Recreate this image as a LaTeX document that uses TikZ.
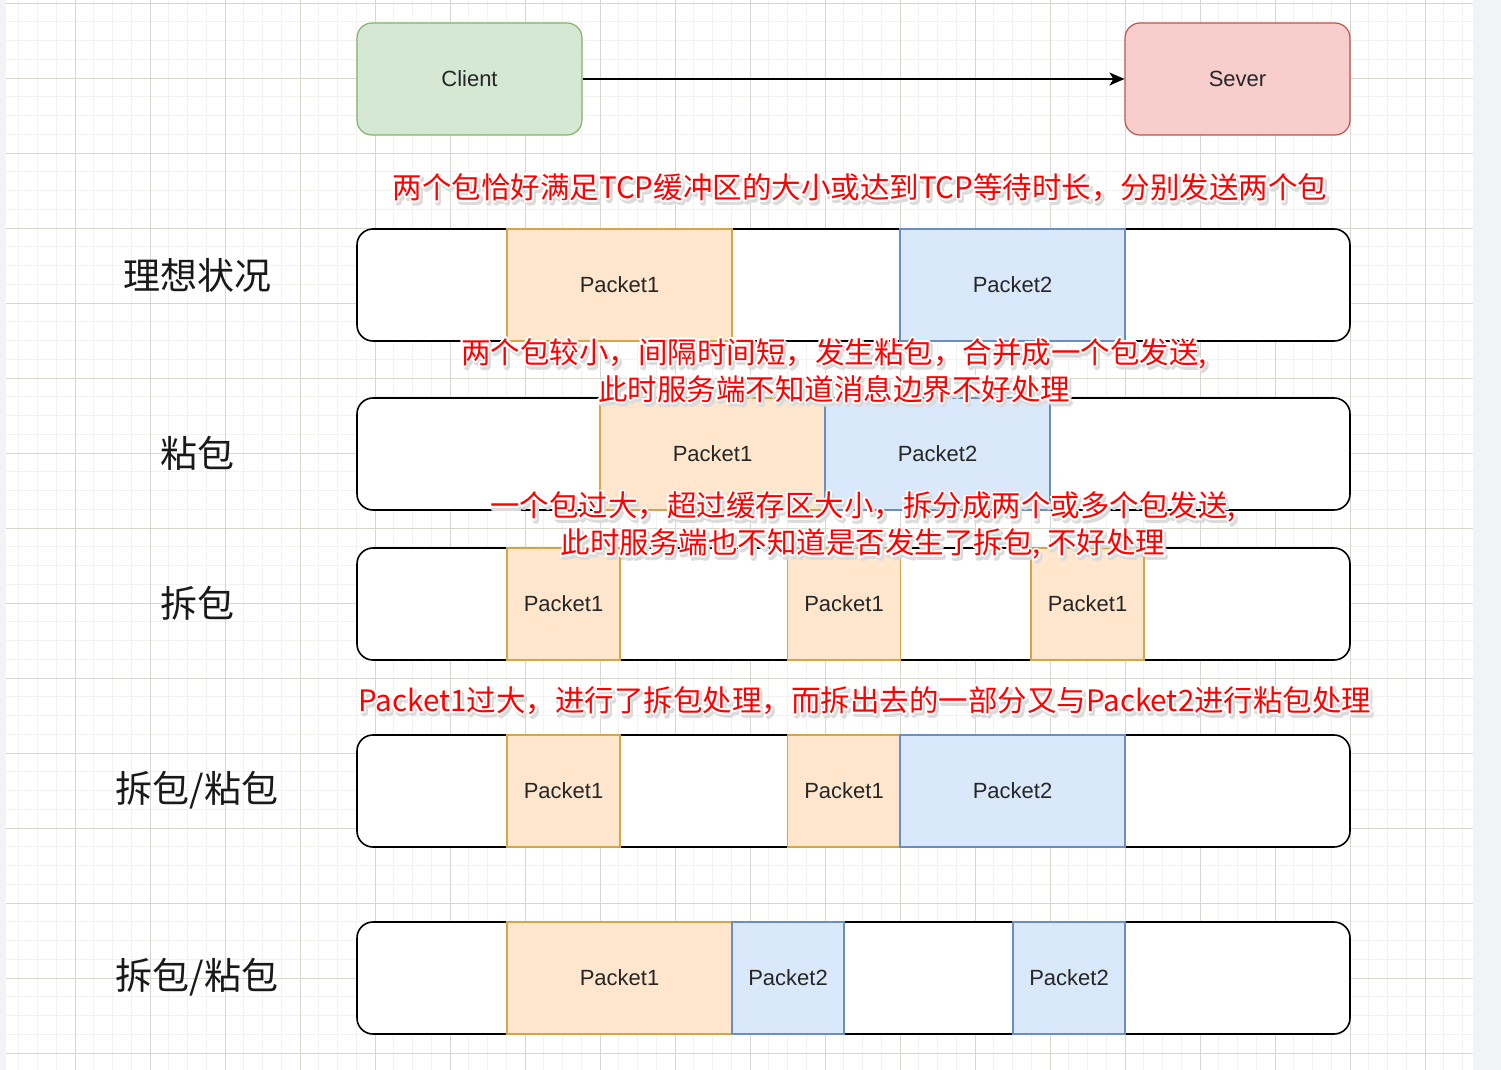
\documentclass[tikz,border=0pt]{standalone}
\usepackage{fontspec}
\setmainfont{Liberation Sans}
\newfontfamily\cjk{Noto Sans CJK SC}
\usepackage{contour}
\usetikzlibrary{arrows.meta, positioning}
\definecolor{gridMinor}{HTML}{F2F2EE}
\definecolor{gridMajor}{HTML}{D8D7CE}
\definecolor{sideStrip}{HTML}{F1F3F6}
\definecolor{clientFill}{HTML}{D5E8D4}
\definecolor{clientLine}{HTML}{82B366}
\definecolor{severFill}{HTML}{F8CECC}
\definecolor{severLine}{HTML}{B85450}
\definecolor{pktOneFill}{HTML}{FFE6CC}
\definecolor{pktOneLine}{HTML}{D6A54A}
\definecolor{pktTwoFill}{HTML}{DAE8FC}
\definecolor{pktTwoLine}{HTML}{6C8EBF}
\definecolor{tipRed}{HTML}{FF0000}
\contourlength{1.7pt}
% one line of red remark text: soft shadow, then white halo
\newcommand{\tipline}[1]{%
  \makebox[0pt][l]{\hspace{2pt}\raisebox{-3pt}{\textcolor{black!14}{\contour{black!14}{#1}}}}%
  \contour{white}{#1}}

\begin{document}
\begin{tikzpicture}[
  x=1pt, y=-1pt,
  minorline/.style={draw=gridMinor, line width=0.8pt},
  majorline/.style={draw=gridMajor, line width=0.9pt},
  endbox/.style={rounded corners=15pt, line width=1.2pt, minimum width=225pt,
    minimum height=112pt, font=\fontsize{22}{25}\selectfont, text=black!85},
  lane/.style={draw=black, line width=1.6pt, fill=white, rounded corners=16pt,
    minimum width=993pt, minimum height=112pt},
  pktone/.style={draw=pktOneLine, fill=pktOneFill, line width=1.2pt,
    minimum height=112pt, font=\fontsize{22}{25}\selectfont, text=black!85},
  pkttwo/.style={draw=pktTwoLine, fill=pktTwoFill, line width=1.2pt,
    minimum height=112pt, font=\fontsize{22}{25}\selectfont, text=black!85},
  rowlabel/.style={font=\cjk\fontsize{37}{40}\selectfont, text=black!90},
  note/.style={font=\cjk\fontsize{29.5}{37}\selectfont, text=tipRed, align=center,
    inner sep=0pt}
]
  \useasboundingbox (0,0) rectangle (1501,1070);
  \fill[white] (0,0) rectangle (1501,1070);

  % background grid
  \foreach \j in {1,...,78}
    \draw[minorline] (\j*18.75,0) -- (\j*18.75,1070);
  \foreach \j in {0,...,57}
    \draw[minorline] (6,3+\j*18.75) -- (1473,3+\j*18.75);
  \foreach \k in {1,...,19}
    \draw[majorline] (\k*75,0) -- (\k*75,1070);
  \foreach \k in {0,...,14}
    \draw[majorline] (6,3+\k*75) -- (1473,3+\k*75);
  \fill[sideStrip] (0,0) rectangle (6,1070);
  \fill[sideStrip] (1473,0) rectangle (1501,1070);

  % client / server
  \node[endbox, fill=clientFill, draw=clientLine] (client) at (469.5,79) {Client};
  \node[endbox, fill=severFill, draw=severLine] (sever) at (1237.5,79) {Sever};
  \draw[-{Stealth[length=15pt, width=13pt, inset=4pt]}, line width=1.4pt]
    (client.east) -- (sever.west);

  % row labels
  \node[rowlabel] (lblideal) at (197,275) {理想状况};
  \node[rowlabel] (lblstick) at (197,453) {粘包};
  \node[rowlabel] (lblsplit) at (197,603) {拆包};
  \node[rowlabel] (lblmixa) at (197,790) {拆包/粘包};
  \node[rowlabel] (lblmixb) at (197,977) {拆包/粘包};

  % lanes
  \node[lane] (laneideal) at (853.5,285) {};
  \node[lane] (lanestick) at (853.5,454) {};
  \node[lane] (lanesplit) at (853.5,604) {};
  \node[lane] (lanemixa) at (853.5,791) {};
  \node[lane] (lanemixb) at (853.5,978) {};

  % packets
  \node[pktone, minimum width=225pt] (idealone) at (619.5,285) {Packet1};
  \node[pkttwo, minimum width=225pt] (idealtwo) at (1012.5,285) {Packet2};

  \node[pktone, minimum width=225pt] (stickone) at (712.5,454) {Packet1};
  \node[pkttwo, minimum width=225pt] (sticktwo) at (937.5,454) {Packet2};

  \node[pktone, minimum width=113pt] (splita) at (563.5,604) {Packet1};
  \node[pktone, minimum width=113pt] (splitb) at (844,604) {Packet1};
  \node[pktone, minimum width=113pt] (splitc) at (1087.5,604) {Packet1};

  \node[pktone, minimum width=113pt] (mixaone) at (563.5,791) {Packet1};
  \node[pktone, minimum width=113pt] (mixatwo) at (844,791) {Packet1};
  \node[pkttwo, minimum width=225pt] (mixathree) at (1012.5,791) {Packet2};

  \node[pktone, minimum width=225pt] (mixbone) at (619.5,978) {Packet1};
  \node[pkttwo, minimum width=112pt] (mixbtwo) at (788,978) {Packet2};
  \node[pkttwo, minimum width=112pt] (mixbthree) at (1069,978) {Packet2};

  % red remarks
  \node[note] (noteideal) at (860,190)
    {\tipline{两个包恰好满足TCP缓冲区的大小或达到TCP等待时长，分别发送两个包}};
  \node[note] (notestick) at (834,373)
    {\tipline{两个包较小，间隔时间短，发生粘包，合并成一个包发送,}\\
     \tipline{此时服务端不知道消息边界不好处理}};
  \node[note] (notesplit) at (863,528)
    {\tipline{一个包过大，超过缓存区大小，拆分成两个或多个包发送,}\\
     \tipline{此时服务端也不知道是否发生了拆包, 不好处理}};
  \node[note] (notemix) at (865,703)
    {\tipline{Packet1过大，进行了拆包处理，而拆出去的一部分又与Packet2进行粘包处理}};
\end{tikzpicture}
\end{document}
